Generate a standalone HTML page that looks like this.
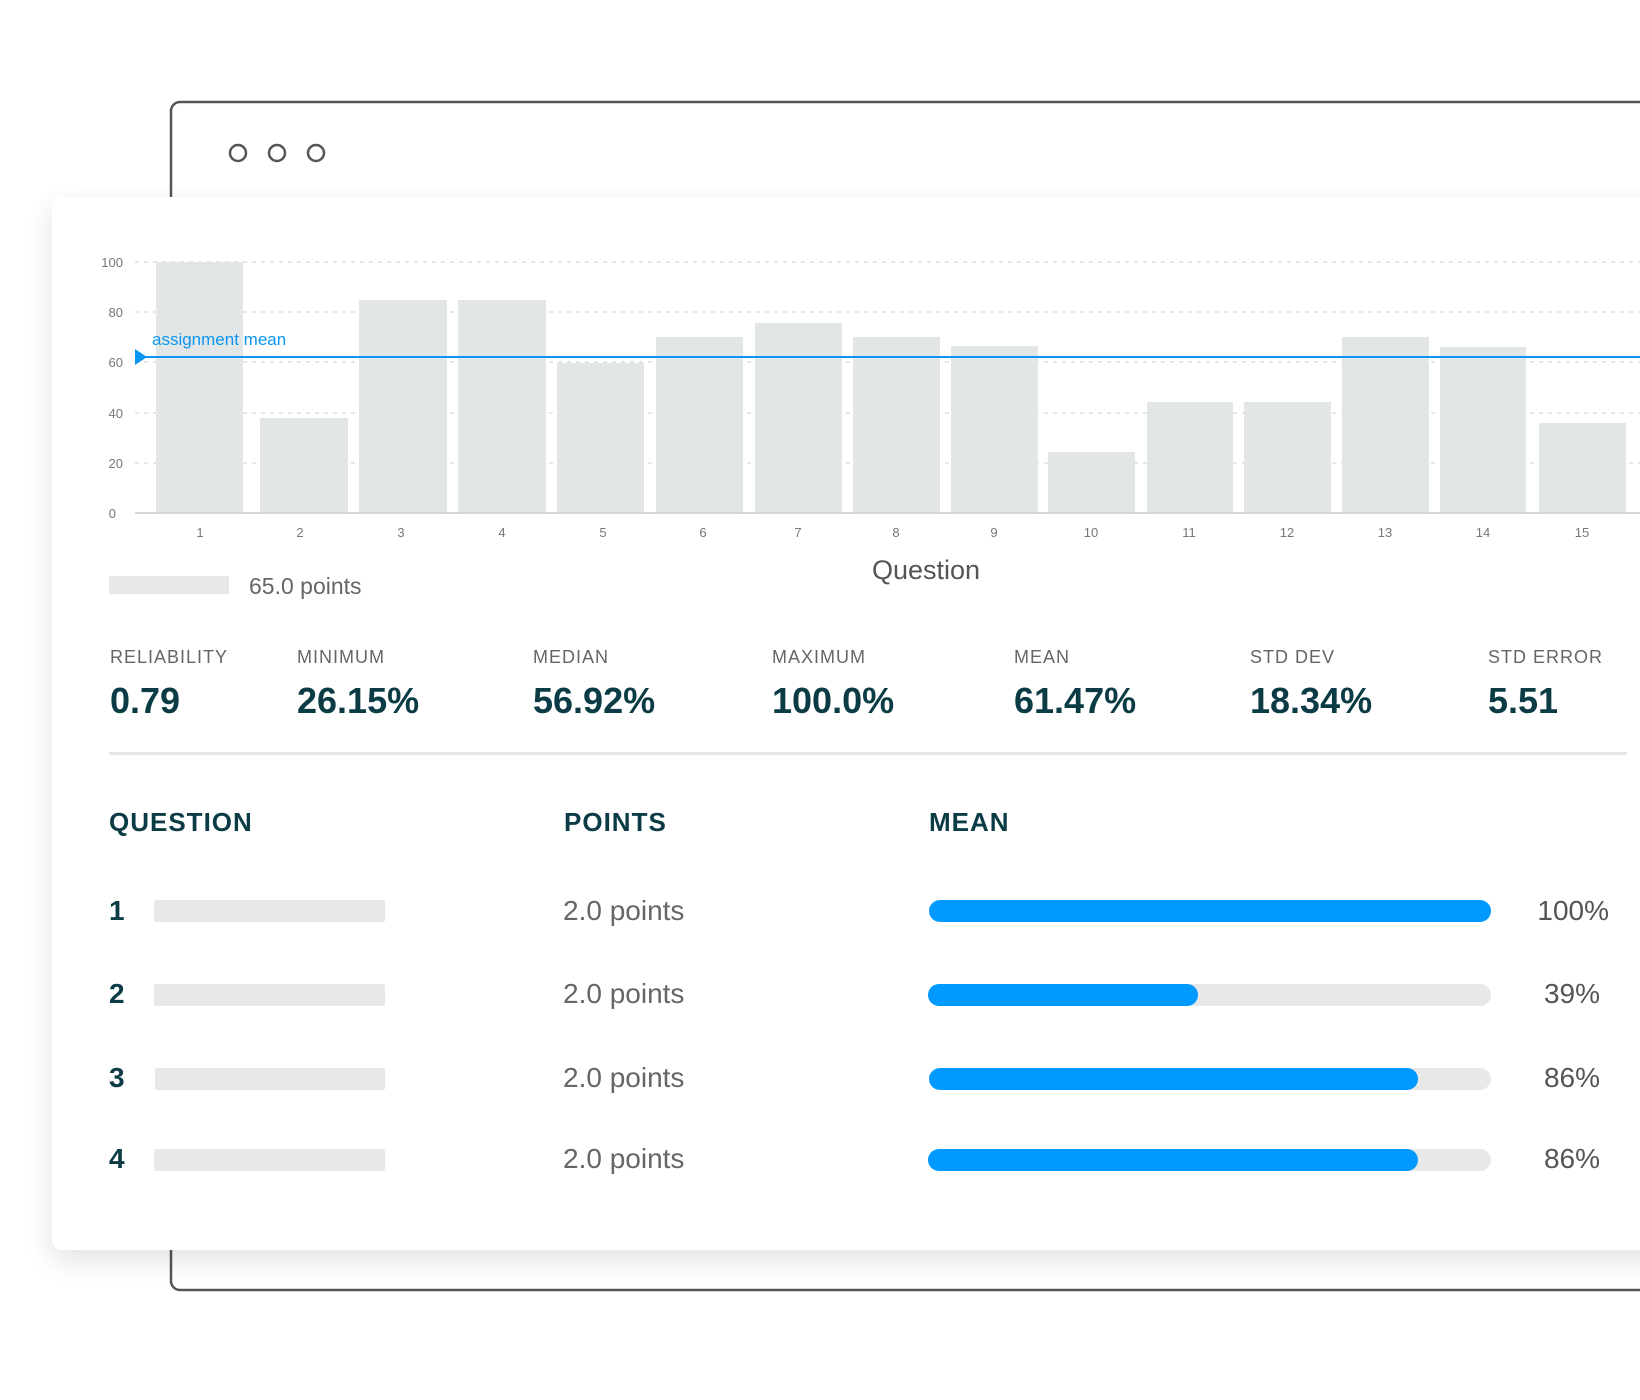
<!DOCTYPE html>
<html><head><meta charset="utf-8"><style>
html,body{margin:0;padding:0;background:#fff;width:1640px;height:1400px;overflow:hidden}
svg{display:block}
text{font-family:"Liberation Sans",sans-serif}
</style></head><body>
<svg width="1640" height="1400" viewBox="0 0 1640 1400">
<defs>
<filter id="sh" x="-10%" y="-10%" width="130%" height="130%">
<feGaussianBlur in="SourceAlpha" stdDeviation="14"/>
<feOffset dx="0" dy="10"/>
<feComponentTransfer><feFuncA type="linear" slope="0.12"/></feComponentTransfer>
<feMerge><feMergeNode/><feMergeNode in="SourceGraphic"/></feMerge>
</filter>
</defs>
<rect x="171" y="102" width="1500" height="1188" rx="9" fill="#fff" stroke="#555" stroke-width="2.5"/>
<circle cx="238" cy="153" r="8" fill="none" stroke="#555" stroke-width="2.5"/>
<circle cx="277" cy="153" r="8" fill="none" stroke="#555" stroke-width="2.5"/>
<circle cx="316" cy="153" r="8" fill="none" stroke="#555" stroke-width="2.5"/>
<rect x="52" y="197" width="1620" height="1053" rx="10" fill="#fff" filter="url(#sh)"/>
<!-- grid -->
<g stroke="#ccc" stroke-width="1" stroke-dasharray="4,5">
<line x1="135" y1="262" x2="1640" y2="262"/>
<line x1="135" y1="312" x2="1640" y2="312"/>
<line x1="135" y1="362" x2="1640" y2="362"/>
<line x1="135" y1="413" x2="1640" y2="413"/>
<line x1="135" y1="463" x2="1640" y2="463"/>
</g>
<g font-size="13" fill="#777" text-anchor="end">
<text x="123" y="267">100</text><text x="123" y="317">80</text><text x="123" y="367">60</text>
<text x="123" y="418">40</text><text x="123" y="468">20</text><text x="116" y="518">0</text>
</g>
<g fill="#e3e6e7">
<rect x="156" y="262" width="87" height="251"/>
<rect x="260" y="418" width="88" height="95"/>
<rect x="359" y="300" width="88" height="213"/>
<rect x="458" y="300" width="88" height="213"/>
<rect x="557" y="363" width="87" height="150"/>
<rect x="656" y="337" width="87" height="176"/>
<rect x="755" y="323" width="87" height="190"/>
<rect x="853" y="337" width="87" height="176"/>
<rect x="951" y="346" width="87" height="167"/>
<rect x="1048" y="452" width="87" height="61"/>
<rect x="1147" y="402" width="86" height="111"/>
<rect x="1244" y="402" width="87" height="111"/>
<rect x="1342" y="337" width="87" height="176"/>
<rect x="1440" y="347" width="86" height="166"/>
<rect x="1539" y="423" width="87" height="90"/>
</g>
<line x1="135" y1="513" x2="1640" y2="513" stroke="#ccc" stroke-width="1.5"/>
<g font-size="13" fill="#777" text-anchor="middle">
<text x="200" y="537">1</text><text x="300" y="537">2</text><text x="401" y="537">3</text><text x="502" y="537">4</text>
<text x="603" y="537">5</text><text x="703" y="537">6</text><text x="798" y="537">7</text><text x="896" y="537">8</text>
<text x="994" y="537">9</text><text x="1091" y="537">10</text><text x="1189" y="537">11</text><text x="1287" y="537">12</text>
<text x="1385" y="537">13</text><text x="1483" y="537">14</text><text x="1582" y="537">15</text>
</g>
<line x1="140" y1="357" x2="1640" y2="357" stroke="#0a96f0" stroke-width="2"/>
<polygon points="135,349 147,357 135,365" fill="#0a96f0"/>
<text x="152" y="345" font-size="17" fill="#0a96f0">assignment mean</text>
<text x="926" y="579" font-size="27" fill="#555" text-anchor="middle">Question</text>
<rect x="109" y="576" width="120" height="18" fill="#e8e8e8"/>
<text x="249" y="594" font-size="23" fill="#666">65.0 points</text>
<g font-size="18" fill="#666" letter-spacing="1">
<text x="110" y="663">RELIABILITY</text><text x="297" y="663">MINIMUM</text><text x="533" y="663">MEDIAN</text>
<text x="772" y="663">MAXIMUM</text><text x="1014" y="663">MEAN</text><text x="1250" y="663">STD DEV</text><text x="1488" y="663">STD ERROR</text>
</g>
<g font-size="36" font-weight="bold" fill="#0b3b44">
<text x="110" y="713">0.79</text><text x="297" y="713">26.15%</text><text x="533" y="713">56.92%</text>
<text x="772" y="713">100.0%</text><text x="1014" y="713">61.47%</text><text x="1250" y="713">18.34%</text><text x="1488" y="713">5.51</text>
</g>
<rect x="109" y="752" width="1518" height="3" fill="#e6e6e6"/>
<g font-size="26" font-weight="bold" fill="#0b3b44" letter-spacing="1">
<text x="109" y="831">QUESTION</text><text x="564" y="831">POINTS</text><text x="929" y="831">MEAN</text>
</g>
<g font-size="28" font-weight="bold" fill="#0b3b44">
<text x="109" y="920">1</text><text x="109" y="1003">2</text><text x="109" y="1087">3</text><text x="109" y="1168">4</text>
</g>
<g fill="#e8e8e8">
<rect x="154" y="900" width="231" height="22" rx="2"/><rect x="154" y="984" width="231" height="22" rx="2"/>
<rect x="155" y="1068" width="230" height="22" rx="2"/><rect x="154" y="1149" width="231" height="22" rx="2"/>
</g>
<g font-size="28" fill="#666">
<text x="563" y="920">2.0 points</text><text x="563" y="1003">2.0 points</text><text x="563" y="1087">2.0 points</text><text x="563" y="1168">2.0 points</text>
</g>
<g fill="#e8e8e8">
<rect x="929" y="900" width="562" height="22" rx="11"/><rect x="928" y="984" width="563" height="22" rx="11"/>
<rect x="929" y="1068" width="562" height="22" rx="11"/><rect x="928" y="1149" width="563" height="22" rx="11"/>
</g>
<g fill="#0099ff">
<rect x="929" y="900" width="562" height="22" rx="11"/><rect x="928" y="984" width="270" height="22" rx="11"/>
<rect x="929" y="1068" width="489" height="22" rx="11"/><rect x="928" y="1149" width="490" height="22" rx="11"/>
</g>
<g font-size="28" fill="#555" text-anchor="end">
<text x="1609" y="920">100%</text><text x="1600" y="1003">39%</text><text x="1600" y="1087">86%</text><text x="1600" y="1168">86%</text>
</g>
</svg>
</body></html>
